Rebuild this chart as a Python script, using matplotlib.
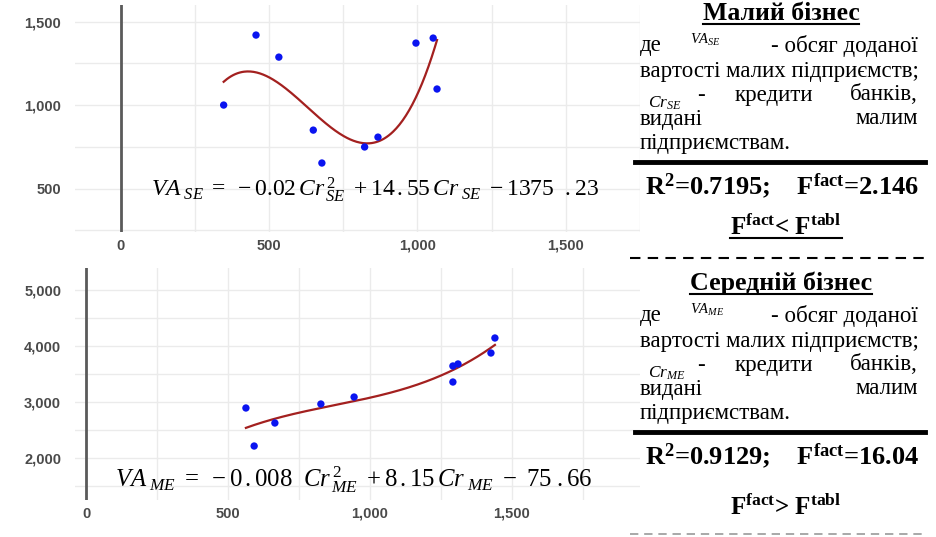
import numpy as np
import matplotlib
matplotlib.use("Agg")
import matplotlib.pyplot as plt
from matplotlib.lines import Line2D

plt.rcParams['mathtext.fontset'] = 'custom'
plt.rcParams['mathtext.rm'] = 'Liberation Serif'
plt.rcParams['mathtext.it'] = 'Liberation Serif:italic'
plt.rcParams['mathtext.bf'] = 'Liberation Serif:bold'

# small business: bank credits vs value added
cr_se = [347, 456, 533, 649, 678, 822, 867, 995, 1053, 1066]
va_se = [1000, 1419, 1287, 850, 653, 749, 808, 1371, 1401, 1096]

# medium business
cr_me = [563, 592, 665, 827, 944, 1292, 1310, 1292, 1426, 1440]
va_me = [2893, 2214, 2625, 2964, 3089, 3643, 3679, 3357, 3875, 4143]

x_ticks = [0, 500, 1000, 1500]
x_labels = ['0', '500', '1,000', '1,500']
y_ticks_se = [500, 1000, 1500]
y_labels_se = ['500', '1,000', '1,500']
y_ticks_me = [2000, 3000, 4000, 5000]
y_labels_me = ['2,000', '3,000', '4,000', '5,000']

W, H = 937, 537
fig = plt.figure(figsize=(W / 100, H / 100), dpi=100)


def px(x, y):
    return x / W, 1 - y / H


def style_axes(ax, xlim, ylim, yt, yl, ystep):
    ax.set_xlim(*xlim)
    ax.set_ylim(*ylim)
    ax.set_xticks(x_ticks)
    ax.set_xticklabels(x_labels)
    ax.set_yticks(yt)
    ax.set_yticklabels(yl)
    ax.set_xticks(np.arange(250, 2000, 500), minor=True)
    ax.set_yticks(np.arange(yt[0] - ystep / 2, ylim[1], ystep), minor=True)
    ax.grid(True, which='both', color='#ebebeb', lw=1)
    ax.set_axisbelow(True)
    for s in ax.spines.values():
        s.set_visible(False)
    ax.tick_params(which='both', length=0, pad=10, labelsize=10.5,
                   labelcolor='#4a4a4a')
    for t in ax.get_xticklabels() + ax.get_yticklabels():
        t.set_fontfamily('Liberation Sans')
        t.set_fontweight('bold')
    ax.axvline(0, color='#5a5a5a', lw=2, zorder=1)


def trend(ax, x, y):
    c = np.polyfit(x, y, 3)
    xs = np.linspace(min(x), max(x), 200)
    ax.plot(xs, np.polyval(c, xs), color='#a3201f', lw=1.6, zorder=2)
    ax.scatter(x, y, s=28, color='#0a14f0', zorder=3, edgecolors='none')


ax1 = fig.add_axes([75 / W, 1 - 232 / H, 565 / W, 227 / H])
style_axes(ax1, (-154, 1660), (240, 1599), y_ticks_se, y_labels_se, 500)
ax1.tick_params(axis='x', pad=5)
trend(ax1, cr_se, va_se)
ax1.text(0.531, 0.185,
         r'$VA_{\ SE}\ =\ -0.02\,Cr^{\,2}_{\,SE}\ +14\,.55\,Cr_{\ SE}\ -1375\ \ .23$',
         transform=ax1.transAxes, ha='center', va='center', fontsize=17)

ax2 = fig.add_axes([75 / W, 1 - 500 / H, 565 / W, 232 / H])
style_axes(ax2, (-39, 1951), (1250, 5393), y_ticks_me, y_labels_me, 1000)
ax2.tick_params(axis='x', pad=5)
trend(ax2, cr_me, va_me)
ax2.text(0.494, 0.086,
         r'$VA_{\ ME}\ =\ -0\,.008\ \ Cr^{\,2}_{\,ME}\ +8\,.15\,Cr_{\ ME}\ -\ 75\ .66$',
         transform=ax2.transAxes, ha='center', va='center', fontsize=17.8)

serif = 'Liberation Serif'
fs = 16.5


def ftext(x, y, s, **kw):
    kw.setdefault('fontsize', fs)
    kw.setdefault('family', serif)
    return fig.text(*px(x, y), s, va='center', **kw)


underline = []
stretch = []


def panel(y0, title, title_fs, sub, r2, ff, sign, ul):
    underline.append(ftext(781, y0, title, ha='center', fontsize=title_fs,
                           weight='bold'))
    ftext(640, y0 + 33, 'де')
    ftext(690, y0 + 27, r'$VA_{%s}$' % sub, fontsize=10.5)
    ftext(918, y0 + 33, '- обсяг доданої', ha='right')
    stretch.append(ftext(640, y0 + 58, 'вартості малих підприємств;'))
    ftext(697, y0 + 82, '-')
    ftext(735, y0 + 82, 'кредити')
    ftext(918, y0 + 82, 'банків,', ha='right')
    ftext(648, y0 + 90, r'$Cr_{%s}$' % sub, fontsize=12.5)
    ftext(640, y0 + 106, 'видані')
    ftext(918, y0 + 106, 'малим', ha='right')
    ftext(640, y0 + 130, 'підприємствам.')
    fig.add_artist(Line2D([635 / W, 925 / W], [1 - (y0 + 149) / H] * 2,
                          color='black', lw=3.5))
    ftext(782, y0 + 173, r'R$^{\mathbf{2}}$=%s;    F$^{\mathbf{fact}}$=%s' % (r2, ff),
          ha='center', fontsize=19, weight='bold')
    t = ftext(786, y0 + 213 if ul else y0 + 224,
              r'F$^{\mathbf{fact}}$%s F$^{\mathbf{tabl}}$' % sign,
              ha='center', fontsize=18, weight='bold')
    if ul:
        underline.append(t)


panel(13, 'Малий бізнес', 18.5, 'SE', '0.7195', '2.146', '<', True)
panel(283, 'Середній бізнес', 18.7, 'ME', '0.9129', '16.04', '>', False)

fig.add_artist(Line2D([630 / W, 925 / W], [1 - 258 / H] * 2, color='black',
                      lw=1.5, ls=(0, (5, 3.5))))
fig.add_artist(Line2D([630 / W, 925 / W], [1 - 534 / H] * 2, color='#9a9a9a',
                      lw=1.2, ls=(0, (5, 3.5))))

fig.canvas.draw()
r = fig.canvas.get_renderer()
# fit the full-width line to the justified column
for t in stretch:
    w = t.get_window_extent(r).width
    t.set_fontsize(fs * 278 / w)
for t in underline:
    bb = t.get_window_extent(r)
    fig.add_artist(Line2D([bb.x0 / W, bb.x1 / W], [(bb.y0 + 1) / H] * 2,
                          color='black', lw=1.5))

plt.savefig('out.png', dpi=100)
plt.close()
